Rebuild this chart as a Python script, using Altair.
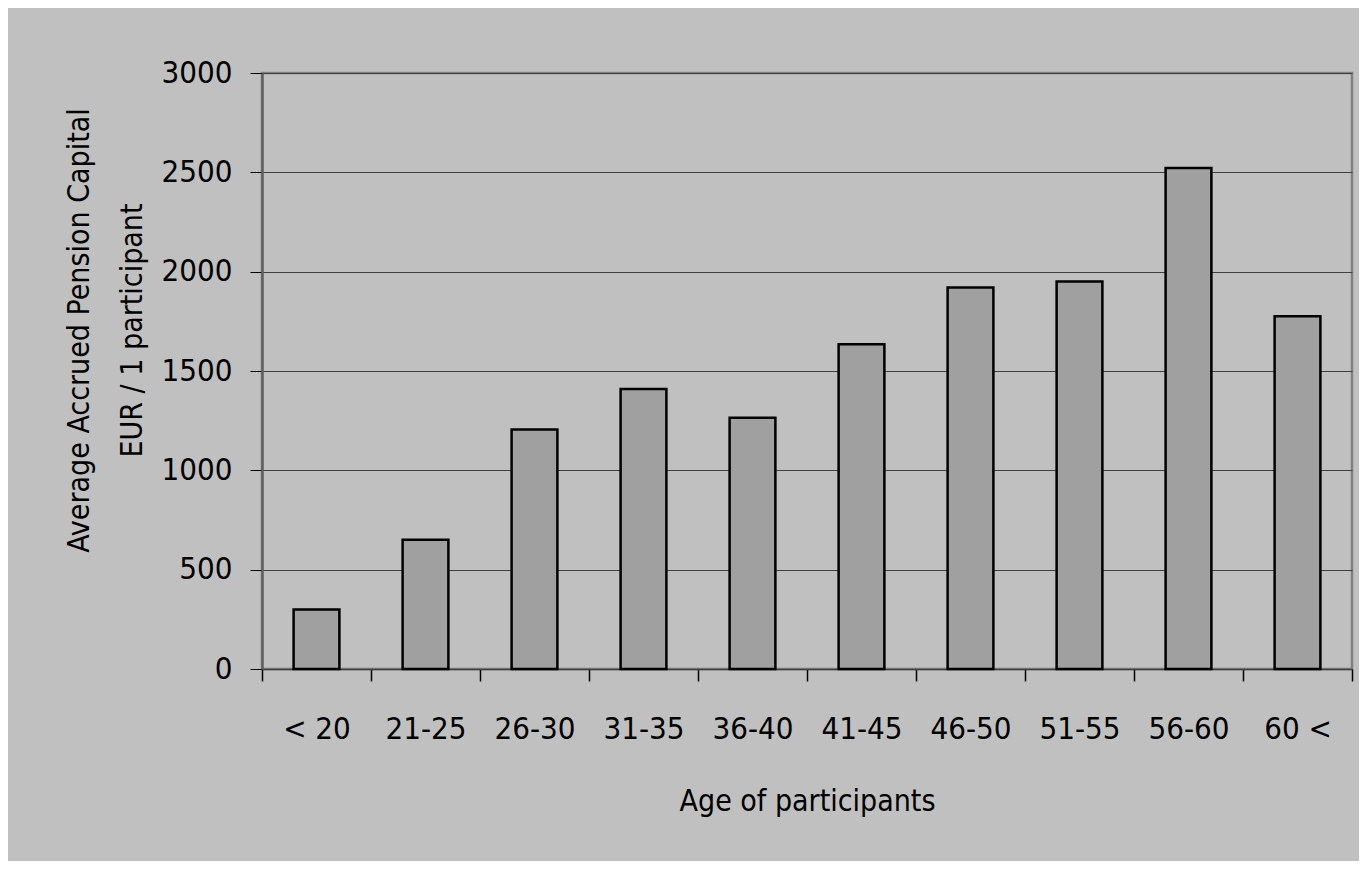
import altair as alt
import pandas as pd

categories = ["< 20", "21-25", "26-30", "31-35", "36-40", "41-45", "46-50", "51-55", "56-60", "60 <"]
values = [300, 650, 1205, 1410, 1265, 1635, 1920, 1950, 2522, 1775]

df = pd.DataFrame({"age": categories, "capital": values})

FONT = "'Liberation Sans Narrow', 'DejaVu Sans Condensed', 'Liberation Sans', sans-serif"

chart = alt.Chart(df).mark_bar(
    fill="#A0A0A0", stroke="#000000", strokeWidth=2.5,
    width=alt.RelativeBandSize(0.42)
).encode(
    x=alt.X("age:N", sort=categories,
            scale=alt.Scale(paddingInner=0, paddingOuter=0),
            axis=alt.Axis(title="Age of participants", labelAngle=0,
                          tickBand="extent", tickSize=12, tickColor="#000000",
                          tickWidth=1.5,
                          domainColor="#404040", domainWidth=1.5,
                          labelPadding=33, titlePadding=42,
                          labelFontSize=31, titleFontSize=30)),
    y=alt.Y("capital:Q", scale=alt.Scale(domain=[0, 3000]),
            axis=alt.Axis(title=["Average Accrued Pension Capital", "EUR / 1 participant"],
                          values=[0, 500, 1000, 1500, 2000, 2500, 3000],
                          format="d",
                          tickSize=12, tickColor="#000000",
                          domainColor="#606060", domainWidth=2.5,
                          gridColor="#404040", gridWidth=1.2,
                          labelPadding=18, labelFontSize=31,
                          titleFontSize=30, titleLineHeight=53,
                          titleY=257, titlePadding=14)),
).properties(
    width=1090, height=596,
    background="#C0C0C0",
    autosize=alt.AutoSizeParams(type="none"),
    padding={"left": 254, "top": 65, "right": 7, "bottom": 192},
).configure_view(
    stroke="#808080", strokeWidth=2.5
).configure_axis(
    labelFont=FONT, titleFont=FONT, labelColor="#000000", titleColor="#000000",
    titleFontWeight="normal"
)

chart.save("out.html", embed_options={"renderer": "svg", "actions": False})
